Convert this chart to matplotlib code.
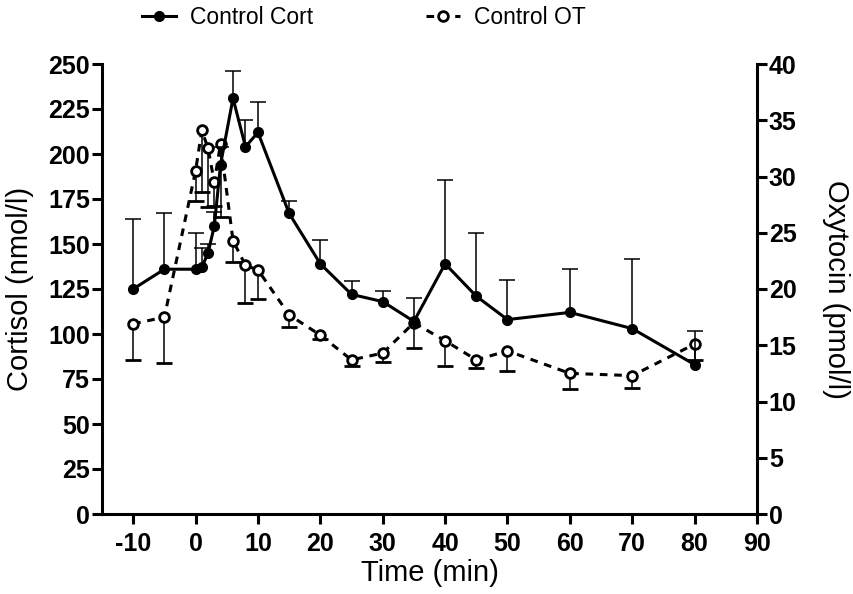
import matplotlib
matplotlib.use('Agg')
import matplotlib.pyplot as plt
import numpy as np

plt.rcParams['font.family'] = ['Liberation Sans', 'DejaVu Sans']
plt.rcParams['axes.unicode_minus'] = False

# Data
time = [-10, -5, 0, 1, 2, 3, 4, 6, 8, 10, 15, 20, 25, 30, 35, 40, 45, 50, 60, 70, 80]
cort = [125, 136, 136, 137, 145, 160, 194, 231, 204, 212, 167, 139, 122, 118, 107, 139, 121, 108, 112, 103, 83]
cort_err = [39, 31, 20, 11, 5, 8, 10, 15, 15, 17, 7, 13.5, 7.5, 6, 13, 46.5, 35, 22, 24, 38.5, 18.5]
ot = [16.9, 17.5, 30.5, 34.1, 32.5, 29.5, 32.9, 24.3, 22.1, 21.7, 17.7, 15.9, 13.7, 14.3, 17.0, 15.4, 13.7, 14.5, 12.5, 12.3, 15.1]
ot_err = [3.2, 4.1, 2.7, 5.5, 5.2, 2.1, 6.5, 1.9, 3.3, 2.6, 1.1, 0.3, 0.5, 0.8, 2.2, 2.2, 0.7, 1.8, 1.4, 1.1, 1.4]

x_ticks = np.arange(-10, 91, 10)
cort_ticks = np.arange(0, 251, 25)
ot_ticks = np.arange(0, 41, 5)

fig = plt.figure(figsize=(8.54, 5.94), dpi=100)
ax = fig.add_axes([102/854, 1 - 514/594, 655/854, 450/594])
ax2 = ax.twinx()

# cortisol drawn on top of oxytocin
ax.set_zorder(ax2.get_zorder() + 1)
ax.patch.set_visible(False)

zeros = np.zeros(len(time))

# Oxytocin: open circles, dashed line, error bars below
l2, caps2, _ = ax2.errorbar(time, ot, yerr=[ot_err, zeros], color='black', lw=2.2,
                            ls=(0, (2.5, 2.2)), marker='o', ms=7, mfc='white', mec='black',
                            mew=2, ecolor='black', elinewidth=1.1, capsize=6, capthick=1.1,
                            label='Control OT')
caps2[1].set_visible(False)

# Cortisol: filled circles, solid line, error bars above
l1, caps1, _ = ax.errorbar(time, cort, yerr=[zeros, cort_err], color='black', lw=2.2,
                           marker='o', ms=7, mfc='black', mec='black',
                           ecolor='black', elinewidth=1.1, capsize=6, capthick=1.1,
                           label='Control Cort')
caps1[0].set_visible(False)

ax.set_xlim(-15, 90)
ax.set_ylim(0, 250)
ax2.set_ylim(0, 40)
ax.set_xticks(x_ticks)
ax.set_yticks(cort_ticks)
ax2.set_yticks(ot_ticks)

for a in (ax, ax2):
    a.spines['top'].set_visible(False)
    for s in a.spines.values():
        s.set_linewidth(2.2)
ax.spines['right'].set_visible(False)
ax2.spines['left'].set_visible(False)
ax2.spines['bottom'].set_visible(False)

ax.tick_params(axis='x', length=7, width=2.2, pad=6, labelsize=18)
ax.tick_params(axis='y', length=7, width=2.2, pad=1.5, labelsize=18)
ax2.tick_params(axis='y', length=7, width=2.2, pad=1.5, labelsize=18)
for lab in ax.get_xticklabels() + ax.get_yticklabels() + ax2.get_yticklabels():
    lab.set_fontweight('bold')

ax.set_xlabel('Time (min)', fontsize=21, labelpad=2)
ax.set_ylabel('Cortisol (nmol/l)', fontsize=21, labelpad=10)
ax2.set_ylabel('Oxytocin (pmol/l)', fontsize=21, rotation=-90, va='bottom', labelpad=18)

fig.legend(handles=[l1, l2], labels=['Control Cort', 'Control OT'], loc='center left',
           bbox_to_anchor=(142/854, 1 - 18/594), ncol=2, frameon=False, fontsize=16.5,
           handlelength=1.5, handletextpad=0.6, columnspacing=4.9, borderpad=0,
           borderaxespad=0)

plt.savefig('out.png', dpi=100)
plt.close(fig)
